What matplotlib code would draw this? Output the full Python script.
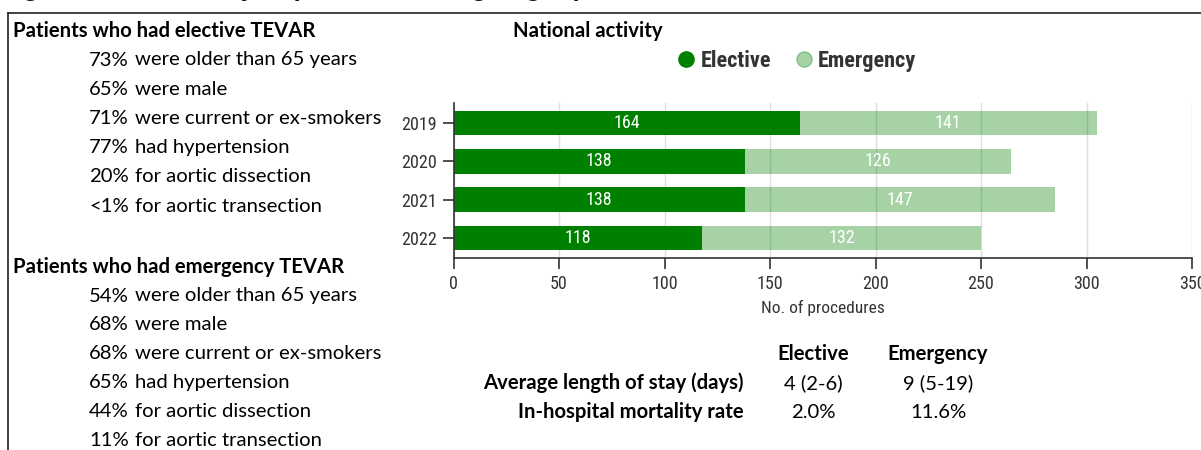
import matplotlib
matplotlib.use("Agg")
import matplotlib.pyplot as plt
from matplotlib.lines import Line2D
from matplotlib import font_manager

W, H = 1201, 450

years = ["2019", "2020", "2021", "2022"]
elective = [164, 138, 138, 118]
emergency = [141, 126, 147, 132]
x_ticks = [0, 50, 100, 150, 200, 250, 300, 350]

title = "Figure 5.1: Summary of patients undergoing repair for thoracic aortic conditions"
elective_head = "Patients who had elective TEVAR"
elective_pct = ["73%", "65%", "71%", "77%", "20%", "<1%"]
elective_desc = ["were older than 65 years", "were male", "were current or ex-smokers",
                 "had hypertension", "for aortic dissection", "for aortic transection"]
emergency_head = "Patients who had emergency TEVAR"
emergency_pct = ["54%", "68%", "68%", "65%", "44%", "11%"]
emergency_desc = ["were older than 65 years", "were male", "were current or ex-smokers",
                  "had hypertension", "for aortic dissection", "for aortic transection"]

table_cols = ["Elective", "Emergency"]
table_rows = ["Average length of stay (days)", "In-hospital mortality rate"]
table_elective = ["4 (2-6)", "2.0%"]
table_emergency = ["9 (5-19)", "11.6%"]

names = {f.name for f in font_manager.fontManager.ttflist}
COND = "Roboto Condensed" if "Roboto Condensed" in names else "Roboto"
BODY = "Lato"
FS = 14.6

DARK = "#008000"

fig = plt.figure(figsize=(W / 100, H / 100), dpi=100)


def fx(x):
    return x / W


def fy(y):
    return 1 - y / H


# frame lines
fig.add_artist(Line2D([fx(7.5), 1], [fy(12.5), fy(12.5)], color="#222222", lw=1.2))
fig.add_artist(Line2D([fx(7.5), fx(7.5)], [fy(12.5), 0], color="#222222", lw=1.2))

# clipped title (only its lower edge shows, as in the reference)
fig.text(fx(0), fy(-4), title, family="Liberation Sans", weight="bold", fontsize=18.5,
         va="baseline", ha="left", color="#111111")

# left panel
fig.text(fx(13), fy(31), elective_head, family=BODY, weight="bold", fontsize=FS, va="center")
for i, (p, d) in enumerate(zip(elective_pct, elective_desc)):
    y = 60 + i * 29.2
    fig.text(fx(89), fy(y), p, family=BODY, fontsize=FS, va="center")
    fig.text(fx(135), fy(y), d, family=BODY, fontsize=FS, va="center")

fig.text(fx(13), fy(267), emergency_head, family=BODY, weight="bold", fontsize=FS, va="center")
for i, (p, d) in enumerate(zip(emergency_pct, emergency_desc)):
    y = 296 + i * 28.9
    fig.text(fx(89), fy(y), p, family=BODY, fontsize=FS, va="center")
    fig.text(fx(135), fy(y), d, family=BODY, fontsize=FS, va="center")

# National activity
fig.text(fx(513), fy(31), "National activity", family=BODY, weight="bold", fontsize=FS, va="center")

# bar chart
ax = fig.add_axes([fx(453.5), fy(258), (1192 - 453.5) / W, 155 / H])
ypos = list(range(len(years)))
ax.barh(ypos, elective, height=0.64, color=DARK, zorder=2)
ax.barh(ypos, emergency, left=elective, height=0.64, color=DARK, alpha=0.35, lw=0, zorder=2)
for i in ypos:
    ax.text(elective[i] / 2, i, str(elective[i]), color="white", ha="center", va="center",
            family=COND, fontsize=13, zorder=3)
    ax.text(elective[i] + emergency[i] / 2, i, str(emergency[i]), color="white", ha="center",
            va="center", family=COND, fontsize=13, zorder=3)
ax.set_ylim(3.52, -0.52)
ax.set_xlim(0, 350)
ax.set_yticks(ypos)
ax.set_yticklabels(years)
ax.set_xticks(x_ticks)
ax.grid(axis="x", color="#dddddd", lw=1, zorder=0)
ax.set_axisbelow(True)
for s in ["top", "right"]:
    ax.spines[s].set_visible(False)
for s in ["left", "bottom"]:
    ax.spines[s].set_color("#333333")
    ax.spines[s].set_linewidth(1.2)
ax.tick_params(axis="both", length=8, width=1.2, color="#333333", labelcolor="#333333",
               labelsize=13, pad=4)
for lab in ax.get_xticklabels() + ax.get_yticklabels():
    lab.set_family(COND)
ax.set_xlabel("No. of procedures", family=COND, fontsize=12.5, color="#333333", labelpad=5)

# legend
handles = [Line2D([], [], marker="o", ls="", color=DARK, markersize=11),
           Line2D([], [], marker="o", ls="", color=DARK, alpha=0.35, markersize=11)]
leg = fig.legend(handles, ["Elective", "Emergency"], loc="center left",
                 bbox_to_anchor=(fx(653), fy(61)), ncol=2, frameon=False,
                 handletextpad=0.05, columnspacing=0.85, handlelength=1.2,
                 prop={"family": COND, "weight": "bold", "size": 16})
for t in leg.get_texts():
    t.set_color("#333333")

# table
fig.text(fx(813), fy(354), table_cols[0], family=BODY, weight="bold", fontsize=FS,
         ha="center", va="center")
fig.text(fx(938), fy(354), table_cols[1], family=BODY, weight="bold", fontsize=FS,
         ha="center", va="center")
for i, r in enumerate(table_rows):
    y = 383 + i * 29.5
    fig.text(fx(744), fy(y), r, family=BODY, weight="bold", fontsize=FS, ha="right", va="center")
    fig.text(fx(813), fy(y), table_elective[i], family=BODY, fontsize=FS, ha="center", va="center")
    fig.text(fx(938), fy(y), table_emergency[i], family=BODY, fontsize=FS, ha="center", va="center")

fig.savefig("out.png", dpi=100)
